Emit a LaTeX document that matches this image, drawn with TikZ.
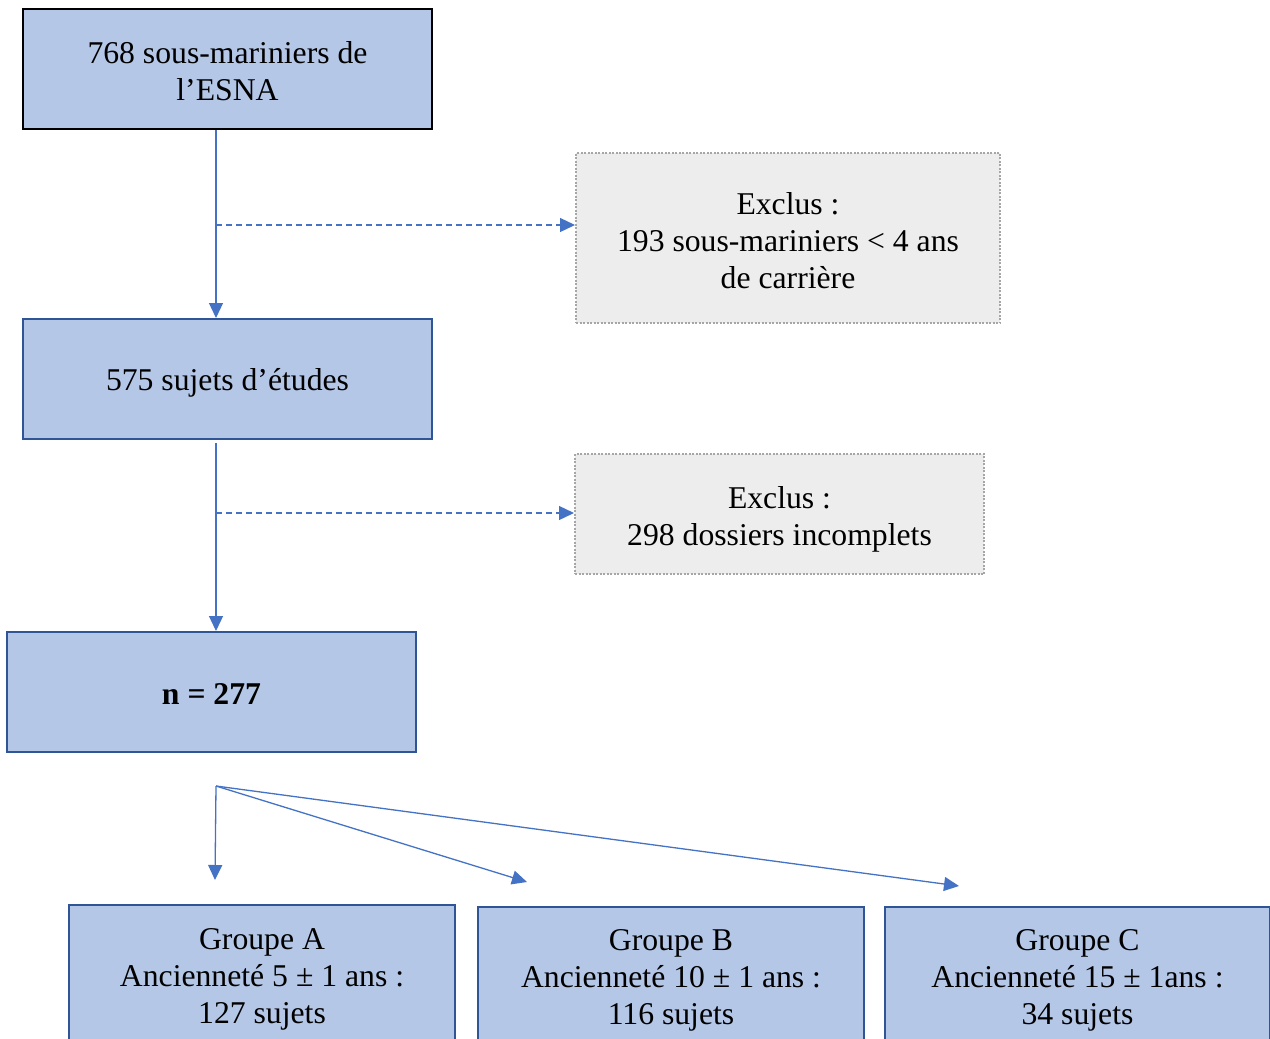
\documentclass[tikz,border=0pt]{standalone}
\usepackage{fontspec}
\setmainfont{Liberation Serif}
\usetikzlibrary{arrows.meta,calc}
\definecolor{boxfill}{HTML}{B4C7E7}
\definecolor{boxline}{HTML}{2F5597}
\definecolor{exfill}{HTML}{EDEDED}
\definecolor{exline}{HTML}{A6A6A6}
\definecolor{arrowc}{HTML}{4472C4}
\newcommand{\boxtext}[2][-5pt]{\raisebox{#1}[\height][\depth]{\begin{tabular}{@{}c@{}}#2\end{tabular}}}
\begin{document}
\begin{tikzpicture}[x=1pt,y=-1pt,
  mainbox/.style={draw=boxline,line width=2pt,fill=boxfill,inner sep=0pt,
    font=\fontsize{31.7}{37}\selectfont},
  topbox/.style={mainbox,draw=black,line width=2.5pt},
  exbox/.style={draw=exline,line width=2pt,dash pattern=on 2pt off 1.5pt,fill=exfill,
    inner sep=0pt,font=\fontsize{31.7}{37}\selectfont},
  arr/.style={draw=arrowc,line width=1.3pt,-{Triangle[length=15pt,width=14pt]},arrowc},
  dasharr/.style={arr,dash pattern=on 6pt off 4pt}]
\useasboundingbox (0,0) rectangle (1270,1039);

\node[topbox,minimum width=409pt,minimum height=120pt] (b1) at (227.5,69)
  {\boxtext[-6pt]{768 sous-mariniers de\\l’ESNA}};
\node[mainbox,minimum width=409pt,minimum height=120pt] (b2) at (227.5,379)
  {\boxtext[-4pt]{575 sujets d’études}};
\node[mainbox,minimum width=409pt,minimum height=120pt] (b3) at (211.5,692)
  {\boxtext[-5pt]{\bfseries n = 277}};
\node[exbox,minimum width=424pt,minimum height=170pt] (e1) at (788,238)
  {\boxtext[-6pt]{Exclus :\\193 sous-mariniers < 4 ans\\de carrière}};
\node[exbox,minimum width=409pt,minimum height=120pt] (e2) at (779.5,514)
  {\boxtext[-6pt]{Exclus :\\298 dossiers incomplets}};
\node[mainbox,minimum width=386pt,minimum height=142pt] (ga) at (262,976)
  {\boxtext[-3pt]{Groupe A\\Ancienneté 5 ± 1 ans :\\127 sujets}};
\node[mainbox,minimum width=386pt,minimum height=140pt] (gb) at (671,977)
  {\boxtext[-3pt]{Groupe B\\Ancienneté 10 ± 1 ans :\\116 sujets}};
\node[mainbox,minimum width=385pt,minimum height=140pt] (gc) at (1077.5,977)
  {\boxtext[-3pt]{Groupe C\\Ancienneté 15 ± 1ans :\\34 sujets}};

\coordinate (c1) at (216,225);
\coordinate (c2) at (216,513);
\coordinate (f0) at (216,786);
\coordinate (fa) at (215,880);
\coordinate (fb) at (527,882);
\coordinate (fc) at (959,886);

\draw[arr] (b1.south -| c1) -- (b2.north -| c1);
\draw[dasharr] (c1) -- (e1.west |- c1);
\draw[arr] ($(b2.south -| c2)+(0,3)$) -- (b3.north -| c2);
\draw[dasharr] (c2) -- (e2.west |- c2);
\draw[arr] (f0) -- (fa);
\draw[arr] (f0) -- (fb);
\draw[arr] (f0) -- (fc);
\end{tikzpicture}
\end{document}
